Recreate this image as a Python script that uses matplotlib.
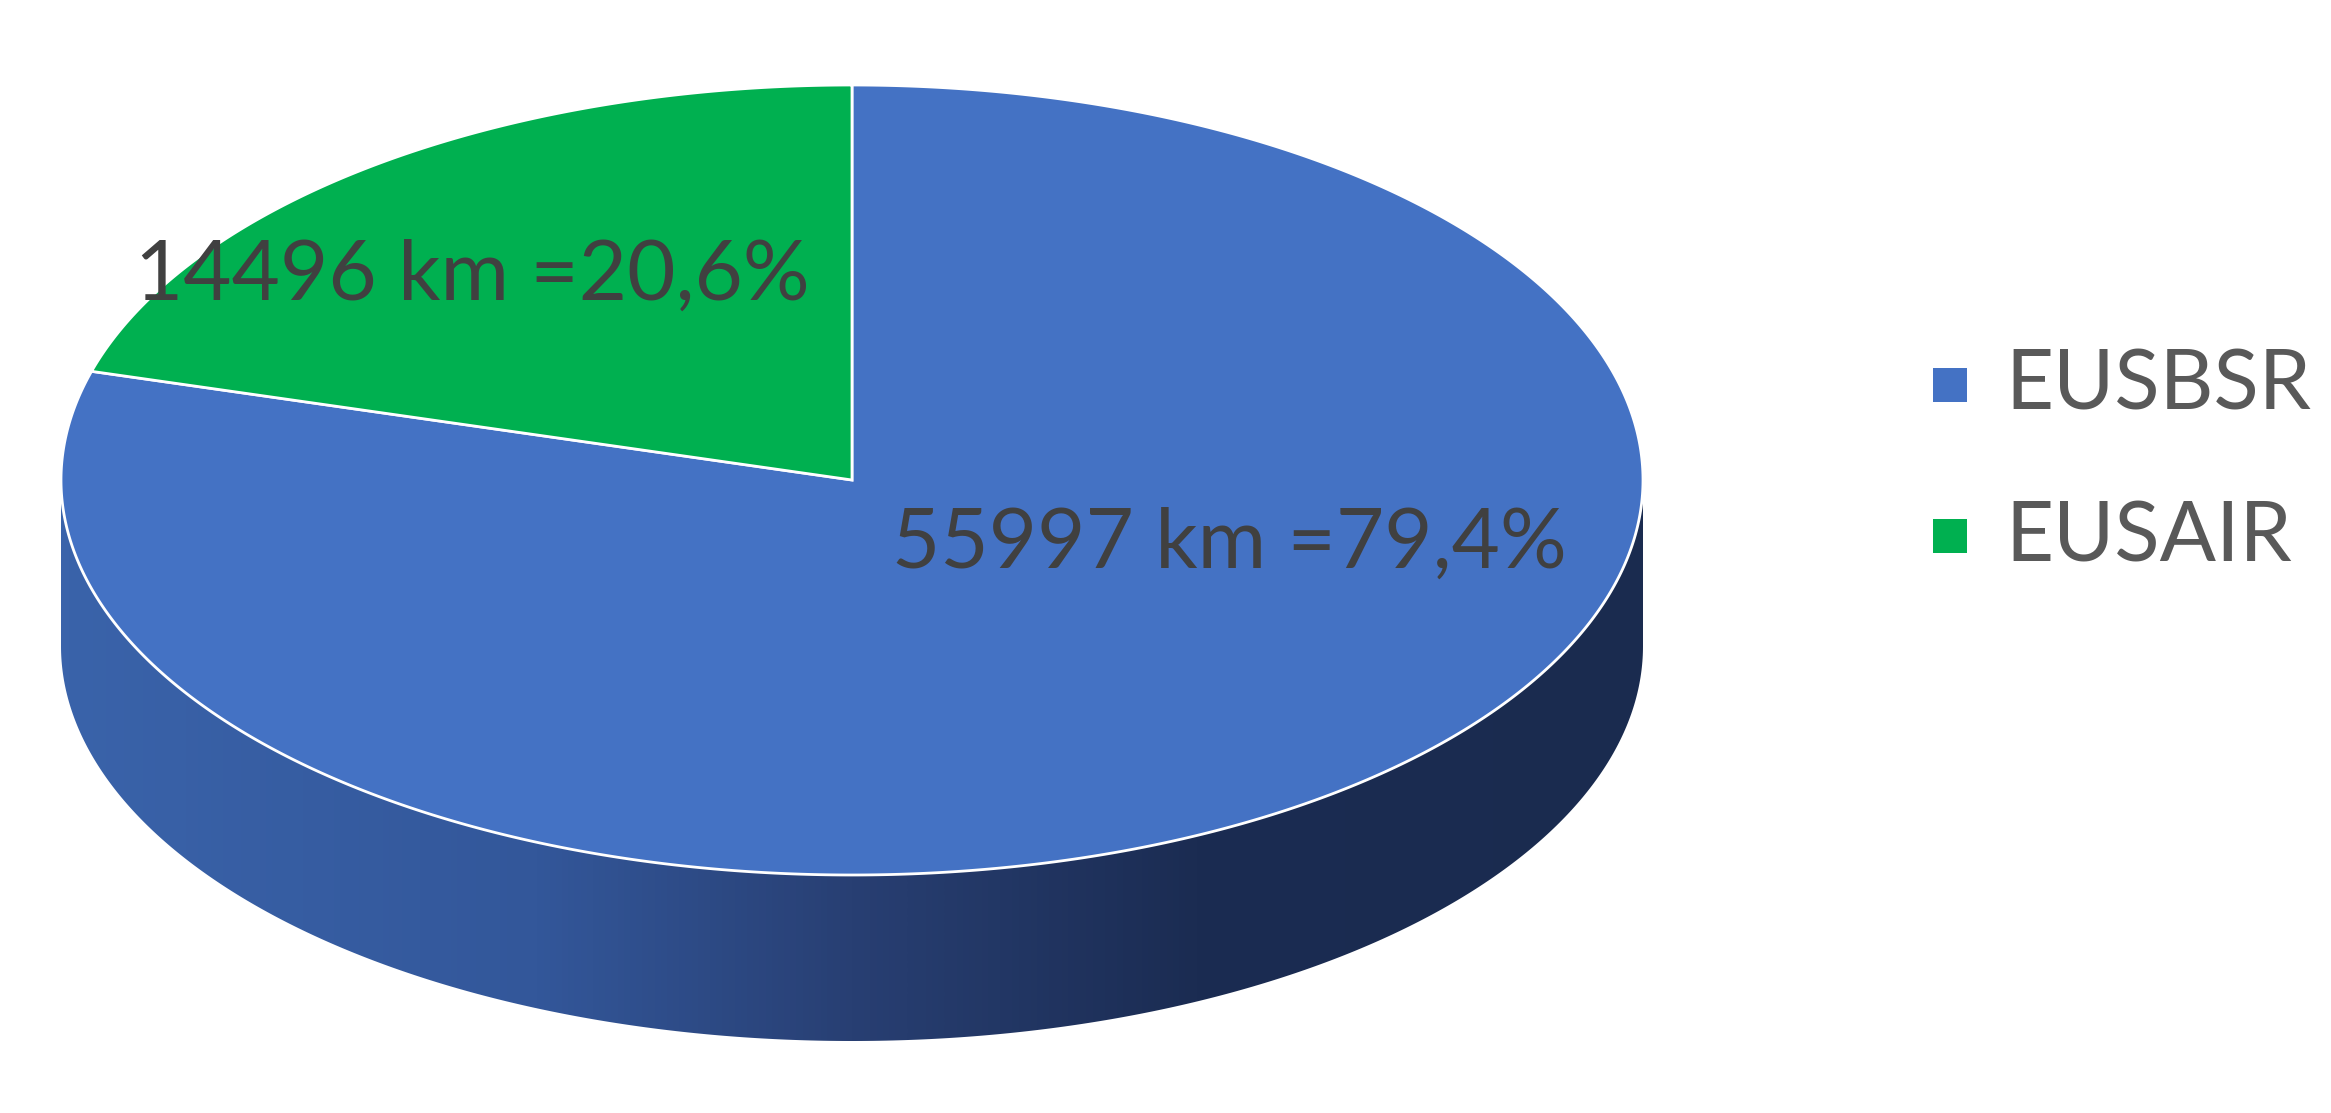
import numpy as np
import matplotlib
matplotlib.use('Agg')
import matplotlib.pyplot as plt
from matplotlib.patches import Polygon, Rectangle
from matplotlib.colors import LinearSegmentedColormap

# ---- data ----
categories = ['EUSBSR', 'EUSAIR']
lengths_km = [55997, 14496]
percent_labels = ['79,4%', '20,6%']
colors = ['#4472C4', '#00B050']

# ---- figure ----
W, H = 2331, 1113
fig = plt.figure(figsize=(W / 100, H / 100), dpi=100)
ax = fig.add_axes([0, 0, 1, 1])
ax.set_xlim(0, W)
ax.set_ylim(H, 0)
ax.axis('off')

cx, cy, a, b, depth = 852, 480, 791, 395, 166


def ept(t, dy=0.0):
    return np.column_stack([cx + a * np.cos(t), cy - b * np.sin(t) + dy])


# ---- side (front half) with horizontal gradient ----
t_front = np.linspace(np.pi, 2 * np.pi, 400)
side_pts = np.vstack([ept(t_front), ept(t_front[::-1], depth)])
side = Polygon(side_pts, closed=True, facecolor='none', edgecolor='none')
ax.add_patch(side)
grad_cmap = LinearSegmentedColormap.from_list(
    'side', [(0.0, '#3a63aa'), (0.3, '#33579a'), (0.5, '#283f73'),
             (0.72, '#1b2c52'), (1.0, '#1a2b4f')])
grad = np.linspace(0, 1, 512).reshape(1, -1)
im = ax.imshow(grad, cmap=grad_cmap, aspect='auto',
               extent=[cx - a, cx + a, cy + b + depth, cy], zorder=1,
               interpolation='bilinear')
im.set_clip_path(side)

# ---- top wedges ----
total = sum(lengths_km)
start = np.pi / 2
for val, col in zip(lengths_km, colors):
    sweep = 2 * np.pi * val / total
    t = np.linspace(start, start - sweep, 600)
    pts = np.vstack([[cx, cy], ept(t)])
    ax.add_patch(Polygon(pts, closed=True, facecolor=col, edgecolor='white',
                         linewidth=2.0, joinstyle='miter', zorder=2))
    start -= sweep

# ---- data labels ----
font = 'Lato'
lab_pos = [(892, 568), (135, 300)]
for val, pct, (x, y) in zip(lengths_km, percent_labels, lab_pos):
    ax.text(x, y, f'{val} km ={pct}', fontsize=60, family=font,
            color='#404040', ha='left', va='baseline', zorder=3)

# ---- legend ----
leg_y = [385, 536]
leg_base = [410, 561]
for cat, col, y, yb in zip(categories, colors, leg_y, leg_base):
    ax.add_patch(Rectangle((1933, y - 17), 34, 34, facecolor=col,
                           edgecolor='none', zorder=3))
    ax.text(2005, yb, cat, fontsize=60, family=font, color='#595959',
            ha='left', va='baseline', zorder=3)

fig.savefig('out.png', dpi=100, facecolor='white')
